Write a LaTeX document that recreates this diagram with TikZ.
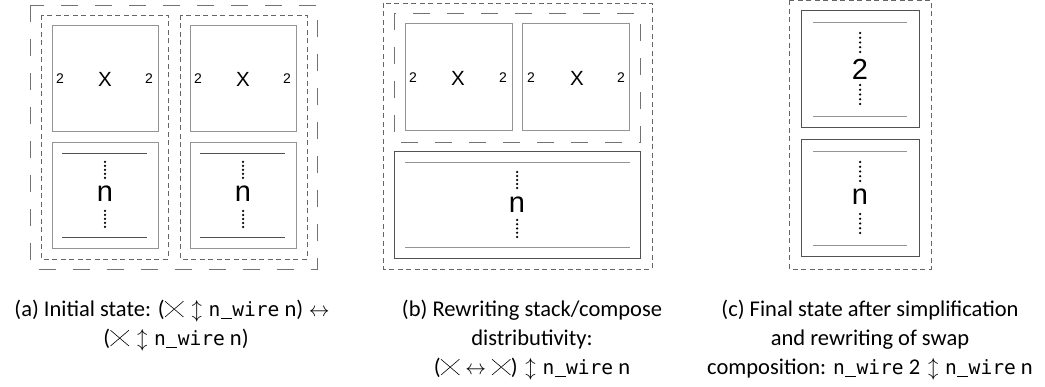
\documentclass[tikz,border=0pt]{standalone}
\usepackage{fontspec}
\setmainfont{Carlito}
\setmonofont[Scale=0.87]{DejaVu Sans Mono}
\newfontfamily\dfont{Liberation Sans}
\newcommand\swapx{\tikz[baseline=0pt,x=1pt,y=1pt]\draw[line width=0.6pt,solid,black] (0pt,0pt)--(0.82em,0.7em) (0pt,0.7em)--(0.82em,0pt);}
\newcommand\nw{{\ttfamily n\makebox[0.6em][c]{\rule[-0.12em]{0.56em}{0.07em}}wire}}
\newcommand\ud{\hspace{0.35em}$\updownarrow$\hspace{0.3em}}
\newcommand\lr{\hspace{0.25em}$\leftrightarrow$\hspace{0.25em}}
\newcommand\dotcol[3]{\foreach \i in {0,...,4}{\fill[black] (#1,{#2+(#3-#2)*\i/4}) circle (1.25pt);}}
\begin{document}
\begin{tikzpicture}[x=1pt,y=-1pt,
  longdash/.style={draw=black!55,line width=0.8pt,dash pattern=on 17pt off 17pt},
  shortdash/.style={draw=black!60,line width=0.8pt,dash pattern=on 5pt off 3.5pt},
  lightbox/.style={draw=black!42,line width=1pt,inner sep=0pt},
  darkbox/.style={draw=black!68,line width=1pt,inner sep=0pt},
  lightline/.style={draw=black!42,line width=1pt},
  darkline/.style={draw=black!68,line width=1pt},
  lbl/.style={font=\dfont\fontsize{14}{16}\selectfont,inner sep=0pt},
  swp/.style={font=\dfont\fontsize{20.5}{24}\selectfont,inner sep=0pt},
  big/.style={font=\dfont\fontsize{29}{32}\selectfont,inner sep=0pt},
  captext/.style={font=\fontsize{22.5}{29}\selectfont,inner sep=0pt,anchor=base}]
\useasboundingbox (0,0) rectangle (1045,387);
% ---------- panel (a)
\draw[longdash] (30.5,5) rectangle (317,269);
\draw[shortdash] (41,15) rectangle (168,259);
\draw[shortdash] (180,15) rectangle (307,259);
\node[lightbox,minimum width=106pt,minimum height=106pt] (aS1) at (105,79) {};
\node[lightbox,minimum width=106pt,minimum height=106pt] (aS2) at (243,79) {};
\node[lightbox,minimum width=106pt,minimum height=106pt] (aW1) at (105,196) {};
\node[lightbox,minimum width=106pt,minimum height=106pt] (aW2) at (243,196) {};
\foreach \c/\nm in {105/1,243/2}{
  \node[lbl] (aL\nm) at (\c-45,79) {2};
  \node[lbl] (aR\nm) at (\c+44,79) {2};
  \node[swp] (aX\nm) at (\c,79) {X};
  \draw[darkline] (\c-43,154) -- (\c+42,154);
  \draw[darkline] (\c-43,238) -- (\c+42,238);
  \dotcol{\c}{162}{178}
  \dotcol{\c}{211}{227}
  \node[big] (aN\nm) at (\c,194) {n};
}
% ---------- panel (b)
\draw[shortdash] (383,3) rectangle (652,269);
\draw[longdash] (394,13) rectangle (640,142);
\node[lightbox,minimum width=107pt,minimum height=107pt] (bS1) at (458.5,77.5) {};
\node[lightbox,minimum width=107pt,minimum height=107pt] (bS2) at (576,77.5) {};
\node[lbl] (bL1) at (413,78) {2};
\node[lbl] (bR1) at (503,78) {2};
\node[lbl] (bL2) at (531,78) {2};
\node[lbl] (bR2) at (621,78) {2};
\node[swp] (bX1) at (458,78) {X};
\node[swp] (bX2) at (577,78) {X};
\node[darkbox,minimum width=246pt,minimum height=107pt] (bW) at (517,205.5) {};
\draw[lightline] (405,163) -- (630,163);
\draw[lightline] (405,248) -- (630,248);
\dotcol{517}{172}{188}
\dotcol{517}{220}{237}
\node[big] (bN) at (517,205) {n};
% ---------- panel (c)
\draw[shortdash] (789,0.5) rectangle (931,269);
\node[darkbox,minimum width=118pt,minimum height=117pt] (cT) at (860,69.5) {};
\node[darkbox,minimum width=118pt,minimum height=117pt] (cB) at (860,198.5) {};
\draw[lightline] (813,23) -- (907,23);
\draw[lightline] (813,117) -- (907,117);
\draw[lightline] (813,152) -- (907,152);
\draw[lightline] (813,246) -- (907,246);
\dotcol{860}{33}{52}
\dotcol{860}{85}{104}
\node[big] (c2) at (860,69) {2};
\dotcol{860}{162}{181}
\dotcol{860}{214}{233}
\node[big] (cN) at (860,197) {n};
% ---------- captions
\node[captext] (ca1) at (172,317) {(a) Initial state: (\swapx\ud\nw\ n)\lr};
\node[captext] (ca2) at (176,346) {(\swapx\ud\nw\ n)};
\node[captext] (cb1) at (532,317) {(b) Rewriting stack/compose};
\node[captext] (cb2) at (532,346) {distributivity:};
\node[captext] (cb3) at (532,375) {(\swapx\lr\swapx)\ud\nw\ n};
\node[captext] (cc1) at (870,317) {(c) Final state after simplification};
\node[captext] (cc2) at (870,346) {and rewriting of swap};
\node[captext] (cc3) at (870,375) {composition: \nw\ 2\ud\nw\ n};
\end{tikzpicture}
\end{document}
